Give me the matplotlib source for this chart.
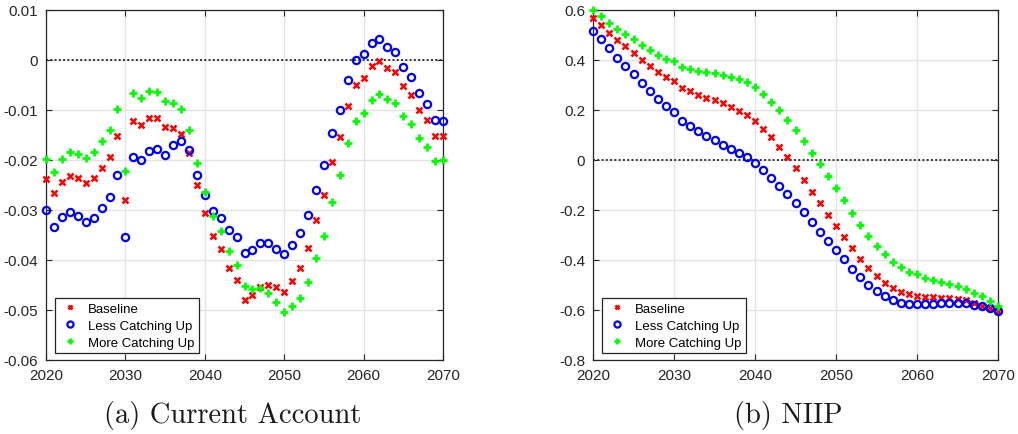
import matplotlib
matplotlib.use("Agg")
import matplotlib.pyplot as plt
import numpy as np

years = list(range(2020, 2071))

ca_baseline = [-0.0238, -0.0265, -0.0243, -0.0231, -0.0236, -0.0246, -0.0235, -0.0216, -0.0194, -0.0152,
               -0.0279, -0.0121, -0.0129, -0.0115, -0.0115, -0.0134, -0.0135, -0.0147, -0.0185, -0.0249,
               -0.0305, -0.0351, -0.0377, -0.0415, -0.0439, -0.0479, -0.0469, -0.0453, -0.0449, -0.0454,
               -0.0463, -0.0442, -0.0415, -0.0376, -0.0321, -0.0269, -0.0203, -0.0154, -0.0091, -0.0050,
               -0.0035, -0.0012, -0.0002, -0.0015, -0.0024, -0.0051, -0.0070, -0.0100, -0.0120, -0.0151,
               -0.0151]
ca_less = [-0.0300, -0.0333, -0.0313, -0.0304, -0.0312, -0.0324, -0.0315, -0.0295, -0.0273, -0.0230,
           -0.0355, -0.0193, -0.0199, -0.0181, -0.0177, -0.0190, -0.0170, -0.0161, -0.0180, -0.0229,
           -0.0270, -0.0301, -0.0315, -0.0340, -0.0354, -0.0386, -0.0379, -0.0366, -0.0365, -0.0377,
           -0.0389, -0.0369, -0.0346, -0.0310, -0.0259, -0.0210, -0.0146, -0.0099, -0.0039, 0.0000,
           0.0013, 0.0034, 0.0042, 0.0027, 0.0017, -0.0013, -0.0033, -0.0065, -0.0087, -0.0119,
           -0.0121]
ca_more = [-0.0198, -0.0223, -0.0198, -0.0184, -0.0187, -0.0195, -0.0183, -0.0162, -0.0139, -0.0097,
           -0.0222, -0.0066, -0.0075, -0.0061, -0.0063, -0.0082, -0.0086, -0.0098, -0.0139, -0.0205,
           -0.0263, -0.0311, -0.0341, -0.0381, -0.0409, -0.0452, -0.0458, -0.0456, -0.0466, -0.0483,
           -0.0503, -0.0492, -0.0475, -0.0443, -0.0396, -0.0352, -0.0283, -0.0230, -0.0165, -0.0121,
           -0.0105, -0.0079, -0.0067, -0.0077, -0.0086, -0.0111, -0.0128, -0.0155, -0.0173, -0.0202,
           -0.0199]

niip_baseline = [0.570, 0.542, 0.510, 0.482, 0.455, 0.429, 0.401, 0.375, 0.353, 0.333,
                 0.318, 0.287, 0.275, 0.262, 0.250, 0.239, 0.227, 0.213, 0.198, 0.181,
                 0.157, 0.126, 0.092, 0.054, 0.011, -0.032, -0.080, -0.127, -0.173, -0.219,
                 -0.264, -0.309, -0.353, -0.394, -0.432, -0.462, -0.490, -0.511, -0.526, -0.535,
                 -0.542, -0.546, -0.549, -0.550, -0.553, -0.555, -0.561, -0.571, -0.585, -0.593,
                 -0.605]
niip_less = [0.518, 0.483, 0.447, 0.410, 0.377, 0.343, 0.309, 0.275, 0.245, 0.217,
             0.193, 0.156, 0.137, 0.117, 0.098, 0.080, 0.062, 0.044, 0.028, 0.011,
             -0.012, -0.039, -0.070, -0.102, -0.137, -0.172, -0.209, -0.248, -0.286, -0.322,
             -0.360, -0.397, -0.435, -0.468, -0.499, -0.524, -0.545, -0.559, -0.570, -0.575,
             -0.577, -0.575, -0.574, -0.571, -0.570, -0.570, -0.573, -0.578, -0.585, -0.592,
             -0.605]
niip_more = [0.601, 0.578, 0.550, 0.526, 0.504, 0.483, 0.460, 0.439, 0.421, 0.405,
             0.396, 0.371, 0.365, 0.358, 0.353, 0.348, 0.339, 0.331, 0.323, 0.311,
             0.291, 0.266, 0.234, 0.200, 0.162, 0.121, 0.075, 0.029, -0.017, -0.064,
             -0.111, -0.161, -0.212, -0.259, -0.302, -0.342, -0.377, -0.406, -0.429, -0.447,
             -0.457, -0.470, -0.479, -0.487, -0.495, -0.504, -0.516, -0.530, -0.545, -0.562,
             -0.583]

series_names = ["Baseline", "Less Catching Up", "More Catching Up"]
xticks = [2020, 2030, 2040, 2050, 2060, 2070]
xtick_labels = ["2020", "2030", "2040", "2050", "2060", "2070"]
ca_yticks = [0.01, 0.0, -0.01, -0.02, -0.03, -0.04, -0.05, -0.06]
ca_ytick_labels = ["0.01", "0", "-0.01", "-0.02", "-0.03", "-0.04", "-0.05", "-0.06"]
niip_yticks = [0.6, 0.4, 0.2, 0.0, -0.2, -0.4, -0.6, -0.8]
niip_ytick_labels = ["0.6", "0.4", "0.2", "0", "-0.2", "-0.4", "-0.6", "-0.8"]
captions = ["(a) Current Account", "(b) NIIP"]

plt.rcParams['font.family'] = ['Liberation Sans', 'DejaVu Sans']

fig = plt.figure(figsize=(10.18, 4.35), dpi=100)
ax1 = fig.add_axes([46 / 1018, 1 - 361 / 435, 397 / 1018, 350 / 435])
ax2 = fig.add_axes([593 / 1018, 1 - 361 / 435, 405 / 1018, 350 / 435])

styles = [
    dict(marker='x', color=(1, 0, 0), markersize=4.0, markeredgewidth=1.8, markerfacecolor='none'),
    dict(marker='o', color=(0, 0, 1), markersize=5.2, markeredgewidth=1.6, markerfacecolor='none'),
    dict(marker='+', color=(0, 1, 0), markersize=5.5, markeredgewidth=2.0, markerfacecolor='none'),
]


def setup(ax, data, yticks, ylabels, ylim):
    ax.axhline(0, color='#333333', linestyle=(0, (1, 1.2)), linewidth=1.4, zorder=1.5)
    for vals, name, st in zip(data, series_names, styles):
        ax.plot(years, vals, linestyle='none', label=name, clip_on=False, zorder=3, **st)
    ax.set_xlim(2020, 2070)
    ax.set_ylim(*ylim)
    ax.set_xticks(xticks)
    ax.set_xticklabels(xtick_labels)
    ax.set_yticks(yticks)
    ax.set_yticklabels(ylabels)
    ax.grid(True, color='#e3e3e3', linewidth=1.0, zorder=0)
    ax.set_axisbelow(True)
    ax.tick_params(direction='in', length=4, width=0.8, top=True, right=True,
                   labelsize=11, labelcolor='#262626', color='#262626')
    ax.tick_params(axis='x', pad=6)
    ax.tick_params(axis='y', pad=5.5)
    for sp in ax.spines.values():
        sp.set_color('#262626')
        sp.set_linewidth(0.9)
    leg = ax.legend(loc='lower left', bbox_to_anchor=(0.005, 0.0), fontsize=9.5,
                    fancybox=False, edgecolor='#262626', framealpha=1,
                    handletextpad=0.6, borderpad=0.35, labelspacing=0.35,
                    handlelength=1.6, borderaxespad=0.5, markerscale=0.85)
    leg.get_frame().set_linewidth(0.9)


setup(ax1, [ca_baseline, ca_less, ca_more], ca_yticks, ca_ytick_labels, (-0.06, 0.01))
setup(ax2, [niip_baseline, niip_less, niip_more], niip_yticks, niip_ytick_labels, (-0.8, 0.6))

fig.text(233 / 1018, 1 - 416 / 435, captions[0], family='cmr10', fontsize=20.5,
         ha='center', va='center', color='#1a1a1a')
fig.text(788 / 1018, 1 - 416 / 435, captions[1], family='cmr10', fontsize=20.5,
         ha='center', va='center', color='#1a1a1a')

fig.savefig("out.png", dpi=100)
